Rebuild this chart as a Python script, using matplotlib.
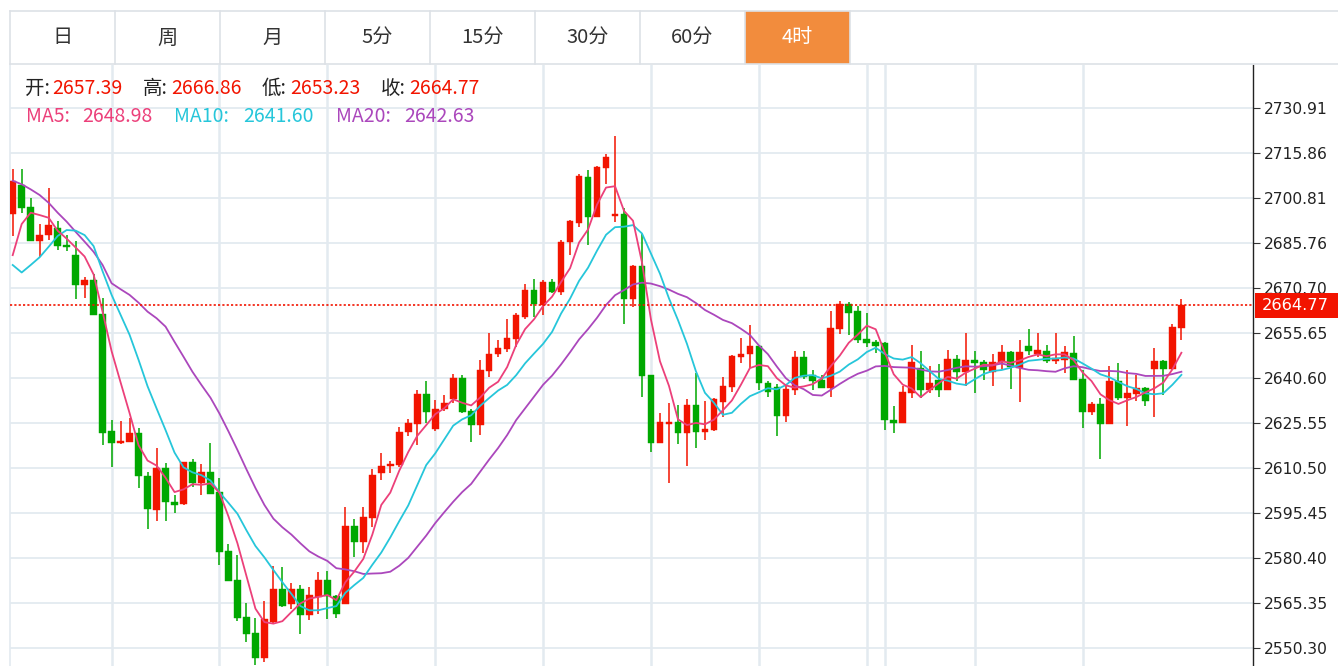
import matplotlib
matplotlib.use('Agg')
import matplotlib.pyplot as plt
import matplotlib.transforms as mtransforms
from matplotlib.patches import Rectangle
from matplotlib.lines import Line2D
import numpy as np
import pandas as pd

plt.rcParams['font.family'] = ['Noto Sans CJK SC', 'DejaVu Sans']

# ---------------- data ----------------
opens = [2695.2, 2705.2, 2697.6, 2686.3, 2688.5, 2690.7, 2684.9, 2681.5, 2671.6, 2673.3,
         2662.0, 2622.8, 2618.7, 2619.2, 2622.0, 2607.9, 2596.4, 2610.3, 2599.1, 2598.4,
         2612.3, 2605.3, 2609.2, 2602.5, 2582.7, 2572.9, 2560.7, 2555.1, 2546.7, 2559.0,
         2569.9, 2564.9, 2570.1, 2561.2, 2567.4, 2572.9, 2567.6, 2564.9, 2591.1, 2585.8,
         2593.8, 2608.6, 2611.1, 2611.4, 2622.3, 2625.1, 2635.1, 2623.4, 2630.1, 2633.4,
         2640.4, 2629.6, 2624.8, 2643.0, 2648.5, 2650.1, 2653.5, 2661.0, 2669.9, 2664.9,
         2672.5, 2669.4, 2685.9, 2692.5, 2707.8, 2694.4, 2710.8, 2694.7, 2695.3, 2666.8,
         2677.9, 2641.5, 2618.7, 2625.1, 2625.7, 2622.0, 2631.5, 2622.3, 2623.1, 2632.4,
         2637.4, 2647.4, 2648.5, 2651.3, 2638.9, 2637.5, 2627.8, 2636.4, 2647.5, 2641.4,
         2640.0, 2637.3, 2657.0, 2665.1, 2662.8, 2653.4, 2652.5, 2652.2, 2626.3, 2625.6,
         2635.5, 2643.9, 2636.6, 2639.7, 2636.6, 2646.9, 2642.5, 2646.6, 2645.8, 2642.5,
         2645.8, 2649.2, 2643.9, 2651.1, 2648.4, 2649.7, 2646.2, 2646.4, 2648.9, 2640.3,
         2629.3, 2631.9, 2625.0, 2639.4, 2633.8, 2635.2, 2637.1, 2643.6, 2646.1, 2643.6,
         2657.39]
highs = [2710.3, 2710.5, 2700.6, 2692.0, 2703.9, 2692.9, 2688.5, 2686.3, 2674.4, 2675.3,
         2667.1, 2626.5, 2626.2, 2627.2, 2623.9, 2609.2, 2617.2, 2612.0, 2601.4, 2612.5,
         2613.4, 2611.7, 2618.9, 2607.0, 2584.9, 2581.3, 2565.4, 2560.1, 2566.0, 2577.6,
         2577.2, 2571.8, 2571.3, 2570.7, 2575.7, 2576.1, 2567.9, 2597.2, 2593.2, 2597.2,
         2610.1, 2615.3, 2612.9, 2624.2, 2626.7, 2636.5, 2639.5, 2633.1, 2634.8, 2641.8,
         2641.5, 2630.3, 2646.5, 2655.4, 2653.2, 2660.4, 2662.3, 2671.8, 2673.5, 2673.3,
         2673.5, 2686.6, 2693.3, 2708.7, 2710.1, 2711.4, 2715.4, 2721.5, 2697.2, 2678.3,
         2688.6, 2641.5, 2628.9, 2632.2, 2631.5, 2633.4, 2642.3, 2632.9, 2633.7, 2640.7,
         2648.2, 2653.8, 2658.2, 2651.5, 2639.5, 2638.4, 2638.6, 2649.7, 2649.5, 2643.3,
         2641.4, 2662.8, 2666.2, 2665.9, 2664.5, 2662.3, 2653.1, 2652.5, 2631.0, 2637.7,
         2651.7, 2649.4, 2644.4, 2645.3, 2650.0, 2648.1, 2655.7, 2649.4, 2646.6, 2648.4,
         2651.4, 2649.4, 2653.3, 2657.0, 2655.5, 2651.6, 2655.5, 2651.1, 2654.4, 2643.3,
         2632.5, 2633.9, 2644.4, 2645.5, 2643.3, 2641.4, 2637.5, 2650.5, 2646.6, 2658.6,
         2666.86]
lows = [2688.0, 2695.6, 2686.4, 2680.9, 2686.6, 2683.3, 2683.1, 2666.8, 2667.1, 2661.5,
        2618.0, 2610.8, 2618.3, 2619.2, 2603.8, 2589.9, 2592.8, 2592.8, 2595.5, 2598.0,
        2603.9, 2601.4, 2601.6, 2578.0, 2572.6, 2559.3, 2552.3, 2544.5, 2545.6, 2558.7,
        2564.0, 2563.1, 2554.9, 2559.6, 2561.6, 2559.8, 2560.1, 2564.9, 2580.7, 2581.9,
        2590.8, 2606.4, 2608.6, 2610.8, 2621.1, 2618.1, 2625.3, 2622.8, 2629.6, 2632.0,
        2628.7, 2619.2, 2621.6, 2641.0, 2647.4, 2649.3, 2650.8, 2660.4, 2661.0, 2661.6,
        2668.8, 2668.3, 2681.6, 2690.9, 2685.0, 2694.2, 2705.4, 2692.8, 2658.6, 2664.1,
        2634.0, 2615.9, 2618.7, 2605.5, 2618.4, 2611.2, 2617.2, 2619.8, 2622.9, 2627.3,
        2635.9, 2645.6, 2643.7, 2636.5, 2634.3, 2621.1, 2625.8, 2634.7, 2640.3, 2636.4,
        2637.3, 2634.1, 2655.1, 2654.8, 2652.3, 2650.9, 2648.9, 2623.0, 2622.1, 2625.6,
        2633.9, 2633.8, 2635.5, 2634.3, 2636.4, 2639.4, 2637.7, 2635.5, 2640.0, 2637.7,
        2643.6, 2636.7, 2632.5, 2648.1, 2647.5, 2645.5, 2645.1, 2642.2, 2639.7, 2623.8,
        2628.2, 2613.5, 2625.0, 2633.0, 2624.3, 2632.8, 2631.1, 2627.6, 2634.9, 2643.3,
        2653.23]
closes = [2706.5, 2697.5, 2686.4, 2688.5, 2691.6, 2684.8, 2684.3, 2671.6, 2673.4, 2661.6,
          2622.2, 2618.7, 2619.4, 2622.0, 2607.8, 2596.6, 2610.3, 2599.1, 2598.0, 2612.3,
          2605.3, 2609.2, 2601.6, 2582.4, 2572.6, 2560.3, 2554.9, 2546.7, 2559.8, 2570.1,
          2564.4, 2570.1, 2561.2, 2567.9, 2572.9, 2567.6, 2561.5, 2591.1, 2585.8, 2594.1,
          2608.1, 2611.2, 2611.7, 2622.5, 2625.3, 2635.1, 2629.2, 2630.0, 2632.3, 2640.4,
          2629.2, 2624.8, 2643.2, 2648.7, 2650.4, 2653.8, 2661.6, 2669.9, 2665.2, 2672.5,
          2669.4, 2686.1, 2693.0, 2708.1, 2694.4, 2711.0, 2714.5, 2695.3, 2666.8, 2677.9,
          2641.2, 2618.9, 2625.7, 2625.7, 2622.0, 2631.5, 2622.5, 2623.4, 2633.5, 2637.7,
          2647.9, 2648.7, 2651.3, 2638.7, 2635.7, 2627.8, 2636.7, 2647.5, 2640.8, 2639.5,
          2637.3, 2657.3, 2665.1, 2662.3, 2653.1, 2652.3, 2651.2, 2626.6, 2625.6, 2635.8,
          2645.8, 2636.6, 2638.8, 2636.6, 2646.9, 2642.5, 2646.6, 2645.5, 2643.3, 2645.8,
          2649.2, 2644.2, 2649.2, 2649.4, 2650.0, 2646.2, 2647.3, 2649.2, 2640.0, 2629.3,
          2631.7, 2625.0, 2639.4, 2633.8, 2635.5, 2637.1, 2632.8, 2646.1, 2643.6, 2657.5,
          2664.77]

ma5_head = [2681.6, 2692.0, 2695.8, 2695.0]
ma10_head = [2678.3, 2675.8, 2678.3, 2680.9, 2684.4, 2688.0, 2690.0, 2689.8, 2688.3]
ma20_head = [2706.5, 2705.3, 2703.6, 2701.7, 2699.1, 2695.8, 2692.8, 2689.4, 2686.1, 2682.7,
             2678.3, 2672.2, 2670.2, 2668.3, 2665.7, 2662.7, 2660.5, 2657.7, 2652.6]

y_ticks = [2730.91, 2715.86, 2700.81, 2685.76, 2670.70, 2655.65, 2640.60,
           2625.55, 2610.50, 2595.45, 2580.40, 2565.35, 2550.30]
vgrid_idx = [11, 23, 35, 47, 59, 71, 83, 95, 97, 107, 119]
tabs = ['日', '周', '月', '5分', '15分', '30分', '60分', '4时']
last_price = 2664.77
ohlc_labels = ['开:', '高:', '低:', '收:']
ohlc_values = ['2657.39', '2666.86', '2653.23', '2664.77']
ma_labels = ['MA5:', 'MA10:', 'MA20:']
ma_values = ['2648.98', '2641.60', '2642.63']

# ---------------- styling ----------------
RED = '#f21400'
GREEN = '#00a800'
C_MA5 = '#ec407a'
C_MA10 = '#26c6da'
C_MA20 = '#ab47bc'
GRID = '#e3eaf0'
TABLINE = '#dde1e6'
ORANGE = '#f28c3d'

W, H = 1338, 666
fig = plt.figure(figsize=(W / 100, H / 100), dpi=100)
fig.patch.set_facecolor('white')

def fx(x):
    return x / W

def fy(y):
    return 1 - y / H

ax = fig.add_axes([fx(10), 0, fx(1253) - fx(10), fy(65)])
ax.set_facecolor('white')

n = len(closes)
idx = np.arange(n)
o = np.array(opens); h = np.array(highs); l = np.array(lows); c = np.array(closes)

# grid
for v in y_ticks:
    ax.axhline(v, color=GRID, lw=1.3, zorder=0)
for i in vgrid_idx:
    ax.axvline(i, color=GRID, lw=1.8, zorder=0)

up = c >= o
cols = np.where(up, RED, GREEN)
ax.vlines(idx, l, h, colors=cols, lw=1.1, zorder=2)
body_bot = np.minimum(o, c)
body_h = np.maximum(np.abs(c - o), 0.4)
ax.bar(idx, body_h, bottom=body_bot, width=0.74, color=cols, edgecolor=cols, lw=0.3, zorder=3)

s = pd.Series(c)
def moving(nw, head):
    m = s.rolling(nw).mean().to_numpy()
    m[:nw - 1] = head
    return m

ma5 = moving(5, ma5_head)
ma10 = moving(10, ma10_head)
ma20 = moving(20, ma20_head)
ax.plot(idx, ma20, color=C_MA20, lw=1.3, zorder=4)
ax.plot(idx, ma10, color=C_MA10, lw=1.3, zorder=4)
ax.plot(idx, ma5, color=C_MA5, lw=1.3, zorder=4)

ax.axhline(last_price, color=RED, lw=1.2, ls=(0, (1.3, 1.3)), zorder=5)

k = 45 / 15.05  # px per price unit
ytop = 2730.91 + (107.7 - 65) / k
ybot = 2730.91 - (666 - 107.7) / k
ax.set_ylim(ybot, ytop)
x_left = (10 - 12.7) / 8.99
x_right = (1253 - 12.7) / 8.99
ax.set_xlim(x_left, x_right)

ax.yaxis.tick_right()
ax.set_yticks(y_ticks)
ax.set_yticklabels([f'{v:.2f}' for v in y_ticks], family='DejaVu Sans', fontsize=11.2, color='#222222')
ax.tick_params(axis='y', length=5, width=0.8, color='#333333', pad=3)
ax.set_xticks([])
for sp in ['top', 'bottom']:
    ax.spines[sp].set_visible(False)
ax.spines['left'].set_color(GRID)
ax.spines['left'].set_linewidth(1.2)
ax.spines['right'].set_color('#222222')
ax.spines['right'].set_linewidth(1.0)

# last price label
tr = mtransforms.blended_transform_factory(fig.transFigure, ax.transData)
box_h = 25.5 / k
ax.add_patch(Rectangle((fx(1255), last_price - box_h / 2), 1 - fx(1255), box_h,
                       transform=tr, facecolor=RED, edgecolor='none', clip_on=False, zorder=10))
ax.text(fx(1262), last_price, f'{last_price:.2f}', transform=tr, color='white',
        family='DejaVu Sans', fontsize=11.7, va='center', ha='left', zorder=11, clip_on=False)

# tab bar
fig.add_artist(Line2D([fx(10), 1], [fy(10.5), fy(10.5)], color=TABLINE, lw=1.2))
fig.add_artist(Line2D([fx(10), 1], [fy(64), fy(64)], color=TABLINE, lw=1.2))
tab_w = 105
for j, name in enumerate(tabs):
    x0 = 10 + j * tab_w
    if name == '4时':
        fig.add_artist(Rectangle((fx(x0), fy(63.5)), tab_w / W, 52.5 / H,
                                 facecolor=ORANGE, edgecolor='none'))
        tc = 'white'
    else:
        tc = '#333333'
    fig.add_artist(Line2D([fx(x0), fx(x0)], [fy(10.5), fy(64)], color=TABLINE, lw=1.2))
    fig.text(fx(x0 + tab_w / 2), fy(38), name, ha='center', va='center', fontsize=14.5, color=tc)
fig.add_artist(Line2D([fx(850), fx(850)], [fy(10.5), fy(64)], color=TABLINE, lw=1.2))

# header info
lab_x = [25, 143, 262, 381]
val_x = [52, 171, 290, 409]
for lx, vx, lt, vt in zip(lab_x, val_x, ohlc_labels, ohlc_values):
    fig.text(fx(lx), fy(88), lt, ha='left', va='center', fontsize=14, color='#222222')
    fig.text(fx(vx), fy(88), vt, ha='left', va='center', fontsize=14, color=RED)
ma_lab_x = [26, 174, 336]
ma_val_x = [82, 243, 404]
for lx, vx, lt, vt, col in zip(ma_lab_x, ma_val_x, ma_labels, ma_values, [C_MA5, C_MA10, C_MA20]):
    fig.text(fx(lx), fy(116), lt, ha='left', va='center', fontsize=14, color=col)
    fig.text(fx(vx), fy(116), vt, ha='left', va='center', fontsize=14, color=col)

fig.savefig('out.png', dpi=100, facecolor='white')
